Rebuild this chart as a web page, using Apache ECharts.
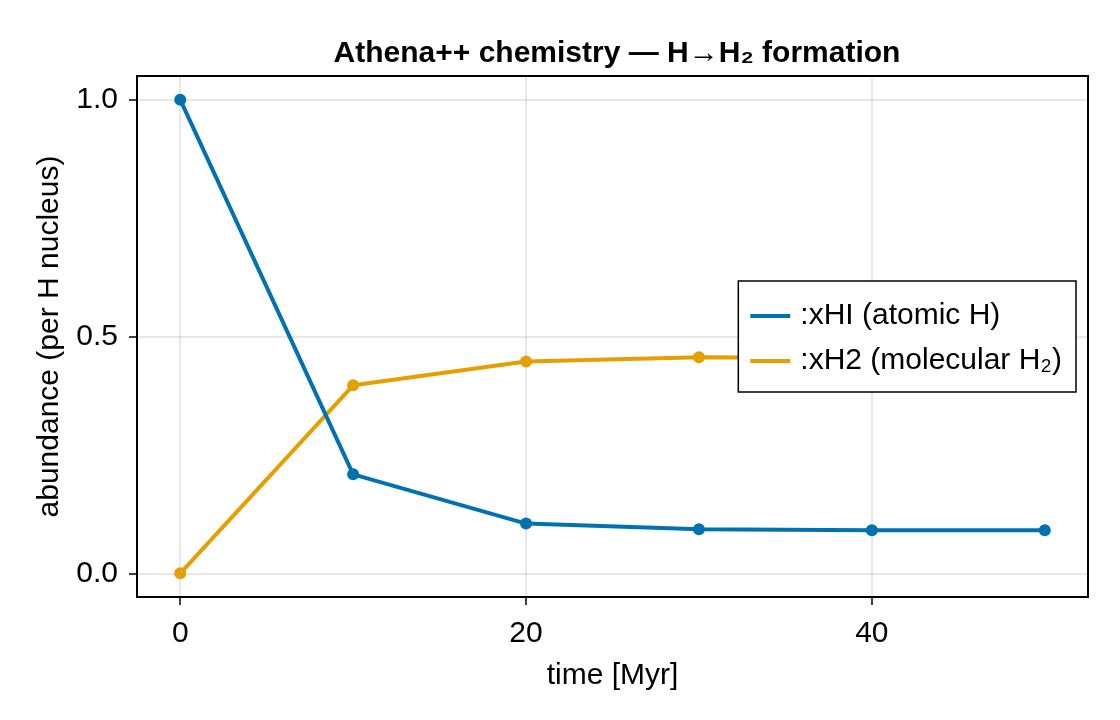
<!DOCTYPE html>
<html>
<head>
<meta charset="utf-8">
<script src="https://cdn.jsdelivr.net/npm/echarts@6/dist/echarts.min.js"></script>
<style>
html,body{margin:0;padding:0;background:#fff;}
#chart{width:1120px;height:720px;}
</style>
</head>
<body>
<div id="chart"></div>
<script>
const timeMyr = [0, 10, 20, 30, 40, 50];
const xHI = [1.0, 0.209, 0.105, 0.093, 0.091, 0.091];
const xH2 = [0.0, 0.397, 0.447, 0.456, 0.4545, 0.4545];
const xTicks = [0, 20, 40];
const yTicks = [0.0, 0.5, 1.0];
const seriesNames = [':xHI (atomic H)', ':xH2 (molecular H\u2082)'];

const FONT = '"Liberation Sans", Arial, sans-serif';
const BLUE = '#0072B2';
const ORANGE = '#E69F00';

const chart = echarts.init(document.getElementById('chart'), null, {renderer: 'canvas'});

function pairs(xs, ys) { return xs.map((x, i) => [x, ys[i]]); }

const option = {
  backgroundColor: '#ffffff',
  animation: false,
  title: {
    text: 'Athena++ chemistry \u2014 H\u2192H\u2082 formation',
    left: 612, textAlign: 'center', top: 34,
    textStyle: {fontFamily: FONT, fontWeight: 'bold', fontSize: 30, color: '#000'}
  },
  grid: {
    left: 137, right: 32, top: 76, bottom: 123,
    show: true, borderColor: '#000', borderWidth: 2, backgroundColor: 'transparent'
  },
  legend: {
    data: seriesNames,
    orient: 'vertical',
    right: 44, top: 281,
    padding: [20, 14, 16, 12],
    itemGap: 15,
    itemWidth: 40, itemHeight: 4,
    icon: 'rect',
    backgroundColor: '#fff',
    borderColor: '#000', borderWidth: 1.5, borderRadius: 0,
    textStyle: {fontFamily: FONT, fontSize: 30, color: '#000', padding: [0, 0, 0, 5]}
  },
  xAxis: {
    type: 'value', min: -2.5, max: 52.5,
    name: 'time [Myr]', nameLocation: 'middle', nameGap: 64,
    nameTextStyle: {fontFamily: FONT, fontSize: 30, color: '#000'},
    axisLine: {show: false, onZero: false},
    axisTick: {show: true, length: 8, inside: false, customValues: xTicks, lineStyle: {color: '#000', width: 1.5}},
    axisLabel: {customValues: xTicks, fontFamily: FONT, fontSize: 30, color: '#000', margin: 22,
      formatter: v => String(Math.round(v))},
    splitLine: {show: true, lineStyle: {color: 'rgba(0,0,0,0.12)', width: 1.5}}
  },
  yAxis: {
    type: 'value', min: -0.05, max: 1.05,
    name: 'abundance (per H nucleus)', nameLocation: 'middle', nameGap: 72, nameRotate: 90,
    nameTextStyle: {fontFamily: FONT, fontSize: 30, color: '#000'},
    axisLine: {show: false, onZero: false},
    axisTick: {show: true, length: 8, inside: false, customValues: yTicks, lineStyle: {color: '#000', width: 1.5}},
    axisLabel: {customValues: yTicks, fontFamily: FONT, fontSize: 30, color: '#000', margin: 19,
      formatter: v => v.toFixed(1)},
    splitLine: {show: true, lineStyle: {color: 'rgba(0,0,0,0.12)', width: 1.5}}
  },
  series: [
    {
      name: seriesNames[1], type: 'line', data: pairs(timeMyr, xH2),
      color: ORANGE, z: 2,
      lineStyle: {width: 4, color: ORANGE},
      symbol: 'circle', symbolSize: 12, showAllSymbol: true,
      itemStyle: {color: ORANGE}
    },
    {
      name: seriesNames[0], type: 'line', data: pairs(timeMyr, xHI),
      color: BLUE, z: 3,
      lineStyle: {width: 4, color: BLUE},
      symbol: 'circle', symbolSize: 12, showAllSymbol: true,
      itemStyle: {color: BLUE}
    }
  ]
};
chart.setOption(option);
</script>
</body>
</html>
